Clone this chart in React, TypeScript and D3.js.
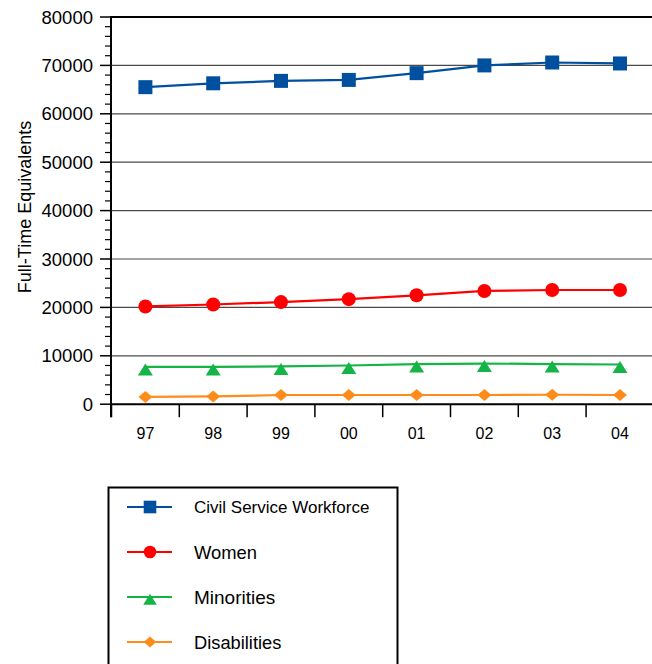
import React from "react";
import * as d3 from "d3";

const years = ["97", "98", "99", "00", "01", "02", "03", "04"];
const civilService = [65500, 66300, 66800, 67000, 68400, 70000, 70600, 70400];
const women = [20200, 20600, 21100, 21700, 22500, 23400, 23600, 23600];
const minorities = [7700, 7700, 7800, 8000, 8300, 8400, 8300, 8200];
const disabilities = [1500, 1600, 1900, 1900, 1900, 1900, 1950, 1900];
const majorTicks = [0, 10000, 20000, 30000, 40000, 50000, 60000, 70000, 80000];
const seriesNames = ["Civil Service Workforce", "Women", "Minorities", "Disabilities"];

const W = 652;
const H = 664;
const FONT = "'Liberation Sans', Arial, Helvetica, sans-serif";

type Shape = "square" | "circle" | "triangle" | "diamond";

const seriesList: { name: string; values: number[]; color: string; shape: Shape; fs: number }[] = [
  { name: seriesNames[0], values: civilService, color: "#00509F", shape: "square", fs: 17 },
  { name: seriesNames[1], values: women, color: "#FF0000", shape: "circle", fs: 18.4 },
  { name: seriesNames[2], values: minorities, color: "#14B446", shape: "triangle", fs: 19 },
  { name: seriesNames[3], values: disabilities, color: "#FF8C1A", shape: "diamond", fs: 18.3 },
];

function Marker({ shape, x, y, color, s = 1 }: { shape: Shape; x: number; y: number; color: string; s?: number }) {
  if (shape === "square") {
    const h = 7 * s;
    return <rect x={x - h} y={y - h} width={2 * h} height={2 * h} fill={color} />;
  }
  if (shape === "circle") {
    return <circle cx={x} cy={y} r={7 * s} fill={color} />;
  }
  if (shape === "triangle") {
    const p = d3.path();
    p.moveTo(x, y - 3.5 * s);
    p.lineTo(x + 7.5 * s, y + 8.5 * s);
    p.lineTo(x - 7.5 * s, y + 8.5 * s);
    p.closePath();
    return <path d={p.toString()} fill={color} />;
  }
  const p = d3.path();
  p.moveTo(x, y - 6 * s);
  p.lineTo(x + 7 * s, y);
  p.lineTo(x, y + 6 * s);
  p.lineTo(x - 7 * s, y);
  p.closePath();
  return <path d={p.toString()} fill={color} />;
}

export default function App() {
  const left = 111.5;
  const right = 653.9;
  const top = 17;
  const bottom = 404.2;

  const x = d3.scaleBand<string>().domain(years).range([left, right]).padding(0);
  const y = d3.scaleLinear().domain([0, 80000]).range([bottom, top]);
  const minorTicks = d3.range(0, 80001, 2000).filter((v) => v % 10000 !== 0);
  const cx = (d: string) => (x(d) as number) + x.bandwidth() / 2;

  const line = d3
    .line<number>()
    .x((_, i) => cx(years[i]))
    .y((v) => y(v));

  const legendRows = [507, 552, 597, 642];

  return (
    <svg
      width={W}
      height={H}
      style={{ position: "absolute", left: 0, top: 0, background: "#fff" }}
      fontFamily={FONT}
    >
      <rect x={0} y={0} width={W} height={H} fill="#fff" />

      {/* horizontal gridlines */}
      {majorTicks
        .filter((v) => v > 0 && v < 80000)
        .map((v) => (
          <line key={v} x1={left} x2={W} y1={y(v)} y2={y(v)} stroke="#4a4a4a" strokeWidth={1.2} />
        ))}
      <line x1={left} x2={W} y1={top} y2={top} stroke="#000" strokeWidth={2} />

      {/* y axis */}
      <line x1={left - 0.5} x2={left - 0.5} y1={top - 1} y2={bottom + 13} stroke="#000" strokeWidth={2} />
      {majorTicks.map((v) => (
        <g key={v}>
          <line x1={100} x2={left} y1={y(v)} y2={y(v)} stroke="#000" strokeWidth={1.5} />
          <text x={93} y={y(v)} dy="0.36em" textAnchor="end" fontSize={18.5} fill="#000">
            {v}
          </text>
        </g>
      ))}
      {minorTicks.map((v) => (
        <line key={v} x1={105} x2={left} y1={y(v)} y2={y(v)} stroke="#000" strokeWidth={1.2} />
      ))}
      <text
        transform={`translate(31, 207) rotate(-90)`}
        textAnchor="middle"
        fontSize={18}
        fill="#000"
      >
        Full-Time Equivalents
      </text>

      {/* x axis */}
      <line x1={left - 1} x2={W} y1={bottom} y2={bottom} stroke="#000" strokeWidth={2} />
      {years.map((yr) => (
        <g key={yr}>
          <line
            x1={x(yr) as number}
            x2={x(yr) as number}
            y1={bottom}
            y2={bottom + 13}
            stroke="#000"
            strokeWidth={1.5}
          />
          <text x={cx(yr)} y={439} textAnchor="middle" fontSize={16} fill="#000">
            {yr}
          </text>
        </g>
      ))}

      {/* series */}
      {seriesList
        .slice()
        .reverse()
        .map((s) => (
          <g key={s.name}>
            <path d={line(s.values) || ""} fill="none" stroke={s.color} strokeWidth={2.2} />
            {s.values.map((v, i) => (
              <Marker key={i} shape={s.shape} x={cx(years[i])} y={y(v)} color={s.color} />
            ))}
          </g>
        ))}

      {/* legend */}
      <rect x={108.5} y={487.5} width={289} height={190} fill="none" stroke="#000" strokeWidth={2} />
      {seriesList.map((s, i) => (
        <g key={s.name}>
          <line x1={127} x2={172} y1={legendRows[i]} y2={legendRows[i]} stroke={s.color} strokeWidth={2} />
          <Marker shape={s.shape} x={150} y={legendRows[i]} color={s.color} s={0.9} />
          <text x={194} y={legendRows[i]} dy="0.36em" fontSize={s.fs} fill="#000">
            {s.name}
          </text>
        </g>
      ))}
    </svg>
  );
}
